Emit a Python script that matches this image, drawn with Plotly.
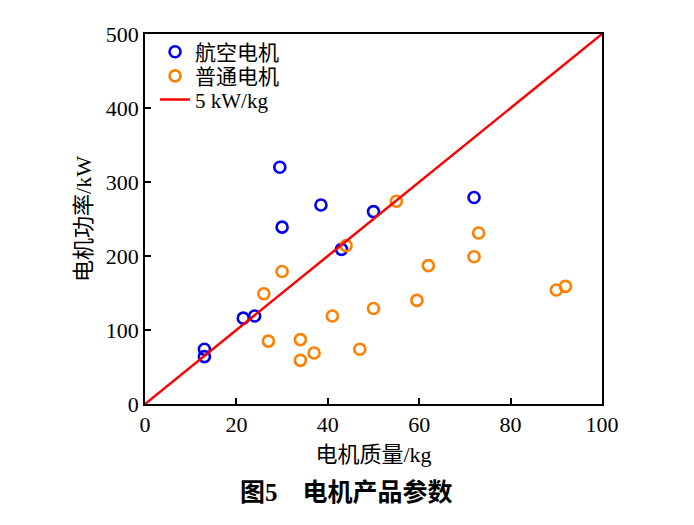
import plotly.graph_objects as go

# 航空电机 (aviation motors)
aero_mass = [13, 13, 21.5, 24, 29.5, 30, 38.5, 43, 50, 72]
aero_power = [74, 64, 116, 119, 320, 239, 269, 209, 260, 279]

# 普通电机 (ordinary motors)
gen_mass = [26, 27, 30, 34, 34, 37, 41, 44, 47, 50, 55, 59.5, 62, 72, 73, 90, 92]
gen_power = [149, 85, 179, 59, 87, 69, 119, 214, 74, 129, 274, 140, 187, 199, 231, 154, 159]

# 5 kW/kg reference line
density = 5
line_mass = [0, 100]
line_power = [density * m for m in line_mass]

x_ticks = [0, 20, 40, 60, 80, 100]
y_ticks = [0, 100, 200, 300, 400, 500]

SERIF = "Liberation Serif, Noto Sans CJK SC"

fig = go.Figure()
fig.add_trace(go.Scatter(
    x=aero_mass, y=aero_power, mode="markers", name="航空电机", legend="legend",
    marker=dict(symbol="circle-open", size=11, color="#0000F0", line=dict(width=2.6, color="#0000F0")),
))
fig.add_trace(go.Scatter(
    x=gen_mass, y=gen_power, mode="markers", name="普通电机", legend="legend2",
    marker=dict(symbol="circle-open", size=11, color="#FF8000", line=dict(width=2.6, color="#FF8000")),
))
fig.add_trace(go.Scatter(
    x=line_mass, y=line_power, mode="lines", name="5 kW/kg", legend="legend3",
    line=dict(color="#FF0000", width=2.5),
))

axis_common = dict(
    showgrid=False, zeroline=False, showline=True, linecolor="black", linewidth=1.5,
    mirror=True, ticks="inside", ticklen=6, tickwidth=1.5, tickcolor="black",
    tickfont=dict(family=SERIF, size=22, color="black"),
)

leg_common = dict(x=0.022, xanchor="left", yanchor="middle",
                  bgcolor="rgba(0,0,0,0)", font=dict(family=SERIF, size=21),
                  itemwidth=30)

fig.update_layout(
    width=694, height=525,
    margin=dict(l=137, r=100, t=26, b=129),
    paper_bgcolor="white", plot_bgcolor="white",
    font=dict(family=SERIF, color="black"),
    xaxis=dict(range=[0, 100], tickvals=x_ticks, **axis_common,
               title=dict(text="电机质量/kg", font=dict(family=SERIF, size=22), standoff=10)),
    yaxis=dict(range=[0, 500], tickvals=y_ticks, **axis_common,
               title=dict(text="电机功率/kW", font=dict(family=SERIF, size=22), standoff=8)),
    legend=dict(y=0.951, **leg_common),
    legend2=dict(y=0.886, **leg_common),
    legend3=dict(y=0.822, **leg_common),
    showlegend=True,
)

fig.add_annotation(
    text="<b>图5　电机产品参数</b>", xref="paper", yref="paper",
    x=0.44, y=-0.195, xanchor="center", yanchor="top", showarrow=False,
    font=dict(family=SERIF, size=25, color="black"),
)

fig.write_html("out.html")
